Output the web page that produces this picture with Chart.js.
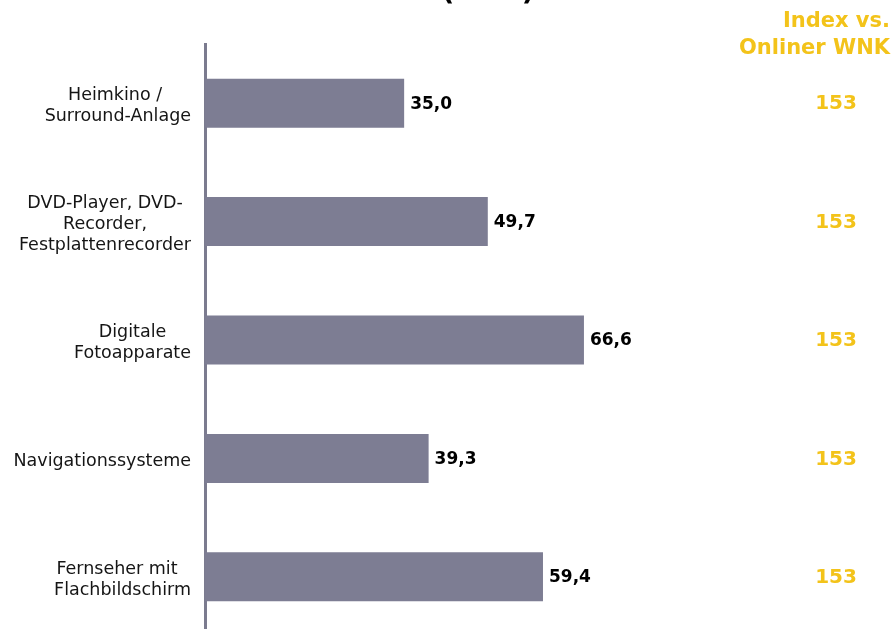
<!DOCTYPE html>
<html>
<head>
<meta charset="utf-8">
<script src="https://cdn.jsdelivr.net/npm/chart.js@4.4.0/dist/chart.umd.min.js"></script>
<style>
	html, body { margin: 0; padding: 0; background: #fff; overflow: hidden; }
	#wrap { width: 894px; height: 640px; }
</style>
</head>
<body>
<div id="wrap"><canvas id="myChart" width="894" height="640"></canvas></div>
<script>
// categories (multi-line labels as arrays)
const categories = [
	['Heimkino / ', 'Surround-Anlage'],
	['DVD-Player, DVD-', 'Recorder,', 'Festplattenrecorder'],
	['Digitale', 'Fotoapparate'],
	'Navigationssysteme',
	['Fernseher mit  ', 'Flachbildschirm'],
];
const shares = [35.0, 49.7, 66.6, 39.3, 59.4];
const index_values = [153, 153, 153, 153, 153];
const index_header = ['Index vs.', 'Onliner WNK'];
const title_text = '(in %)';

const colors = {
	bar: '#7d7d93',
	axis: '#7b7b8f',
	gold: '#f3c31a',
	text: '#151515',
};
const font_family = '"DejaVu Sans", Verdana, sans-serif';

// category labels: each block right-aligned to the axis, lines centred inside it
const categoryLabelPlugin = {
	id: 'categoryLabels',
	afterDraw(chart) {
		const ctx = chart.ctx;
		const yScale = chart.scales.y;
		const right = chart.chartArea.left - 14;
		const lineH = 20.8;
		ctx.save();
		ctx.font = '17.5px ' + font_family;
		ctx.fillStyle = colors.text;
		ctx.textAlign = 'center';
		ctx.textBaseline = 'middle';
		categories.forEach((label, i) => {
			const lines = Array.isArray(label) ? label : [label];
			const widest = Math.max(...lines.map(l => ctx.measureText(l).width));
			const cx = right - widest / 2;
			const cy = yScale.getPixelForValue(i) + 3;
			const y0 = cy - (lines.length - 1) * lineH / 2;
			lines.forEach((line, j) => ctx.fillText(line, cx, y0 + j * lineH));
		});
		ctx.restore();
	}
};

// value labels next to bars + index column + header
const labelPlugin = {
	id: 'labels',
	afterDatasetsDraw(chart) {
		const ctx = chart.ctx;
		const meta = chart.getDatasetMeta(0);
		ctx.save();
		ctx.textBaseline = 'middle';
		meta.data.forEach((bar, i) => {
			ctx.font = 'bold 17px ' + font_family;
			ctx.fillStyle = '#000';
			ctx.textAlign = 'left';
			ctx.fillText(shares[i].toFixed(1).replace('.', ','), bar.x + 6, bar.y + 1);

			ctx.font = 'bold 20px ' + font_family;
			ctx.fillStyle = colors.gold;
			ctx.textAlign = 'center';
			ctx.fillText(String(index_values[i]), 836, bar.y + 1);
		});

		ctx.font = 'bold 21px ' + font_family;
		ctx.fillStyle = colors.gold;
		ctx.textAlign = 'right';
		ctx.fillText(index_header[0], 890, 22);
		ctx.fillText(index_header[1], 890, 49);

		// title sits mostly above the top edge
		ctx.font = 'bold 28px ' + font_family;
		ctx.fillStyle = '#000';
		ctx.textAlign = 'center';
		ctx.textBaseline = 'alphabetic';
		ctx.fillText(title_text, 488, 0);
		ctx.restore();
	}
};

const config = {
	type: 'bar',
	data: {
		labels: categories,
		datasets: [{
			data: shares,
			backgroundColor: colors.bar,
			borderWidth: 0,
			categoryPercentage: 1.0,
			barPercentage: 0.414,
		}],
	},
	options: {
		indexAxis: 'y',
		responsive: false,
		animation: false,
		layout: {
			padding: { top: 44, bottom: 4, left: 0, right: 120 },
		},
		plugins: {
			legend: { display: false },
			tooltip: { enabled: false },
		},
		scales: {
			x: {
				display: false,
				min: 0,
				max: 100,
			},
			y: {
				afterFit(scale) {
					scale.width = 205;
					scale.paddingTop = 0;
					scale.paddingBottom = 0;
				},
				grid: { display: false, drawTicks: false },
				border: { display: true, color: colors.axis, width: 3 },
				ticks: { display: false },
			},
		},
	},
	plugins: [labelPlugin, categoryLabelPlugin],
};

var myChart = new Chart(document.getElementById('myChart'), config);
</script>
</body>
</html>
